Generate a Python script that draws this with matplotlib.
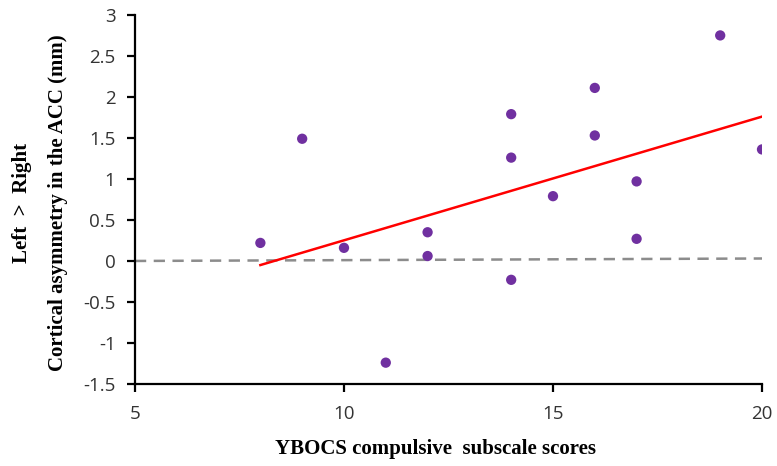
import matplotlib
matplotlib.use("Agg")
import matplotlib.pyplot as plt

# Data
scores = [8, 9, 10, 11, 12, 12, 14, 14, 14, 15, 16, 16, 17, 17, 19, 20]
asym = [0.22, 1.49, 0.16, -1.24, 0.35, 0.06, 1.79, 1.26, -0.23, 0.79, 2.11, 1.53, 0.97, 0.27, 2.75, 1.36]
fit_x = [8, 20]
fit_y = [-0.05, 1.76]
ref_x = [5, 20]
ref_y = [0.0, 0.03]
xticks = [5, 10, 15, 20]
yticks = [-1.5, -1, -0.5, 0, 0.5, 1, 1.5, 2, 2.5, 3]
ytick_labels = ["-1.5", "-1", "-0.5", "0", "0.5", "1", "1.5", "2", "2.5", "3"]

fig = plt.figure(figsize=(7.77, 4.66), dpi=100)
ax = fig.add_axes([0.1737, 0.176, 0.807, 0.792])

ax.plot(ref_x, ref_y, color="#8c8c8c", lw=1.8, dashes=(4.5, 3), zorder=1)
ax.plot(fit_x, fit_y, color="#ff0000", lw=1.8, zorder=2)
ax.scatter(scores, asym, s=55, color="#7030a0", edgecolors="none", zorder=3)

ax.set_xlim(5, 20)
ax.set_ylim(-1.5, 3)
ax.set_xticks(xticks)
ax.set_yticks(yticks)
ax.set_yticklabels(ytick_labels)

for s in ["top", "right"]:
    ax.spines[s].set_visible(False)
for s in ["left", "bottom"]:
    ax.spines[s].set_linewidth(1.6)
    ax.spines[s].set_color("black")

ax.tick_params(axis="both", direction="out", length=6, width=1.6, colors="black",
               labelsize=13.5, labelcolor="#333333")
ax.tick_params(axis="x", pad=9)
ax.tick_params(axis="y", pad=8)
for lab in ax.get_xticklabels() + ax.get_yticklabels():
    lab.set_fontfamily("Open Sans")

ax.set_xlabel("YBOCS compulsive  subscale scores", fontfamily="Liberation Serif",
              fontweight="bold", fontsize=15)
ax.xaxis.set_label_coords(0.48, -0.15)

fig.text(0.075, 0.565, "Cortical asymmetry in the ACC (mm)", rotation=90,
         fontfamily="Liberation Serif", fontweight="bold", fontsize=15,
         ha="center", va="center")
fig.text(0.028, 0.565, "Left  >  Right", rotation=90,
         fontfamily="Liberation Serif", fontweight="bold", fontsize=15,
         ha="center", va="center")

fig.savefig("out.png", dpi=100)
